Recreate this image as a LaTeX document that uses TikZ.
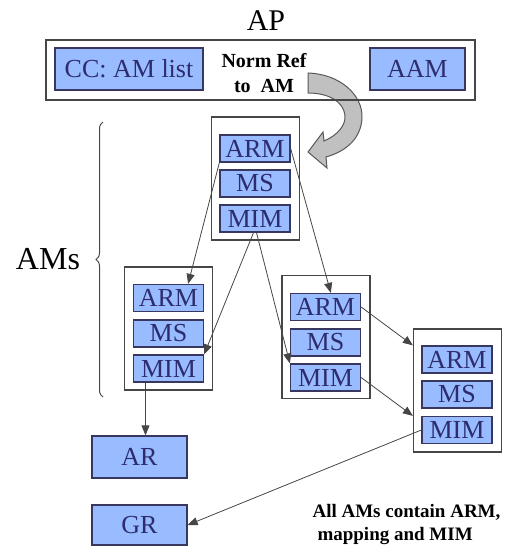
\documentclass[tikz,border=0pt]{standalone}
\usepackage{fontspec}
\setmainfont{Liberation Serif}
\usepackage{tikz}
\usetikzlibrary{arrows.meta, calc, decorations.pathreplacing}
\definecolor{boxfill}{RGB}{153, 187, 255}
\definecolor{boxtext}{RGB}{45, 45, 110}
\definecolor{boxline}{RGB}{55, 55, 95}
\definecolor{frameline}{RGB}{70, 70, 70}
\definecolor{bendgray}{RGB}{192, 192, 192}

\tikzset{
    part/.style={draw=boxline, line width=1.3pt, fill=boxfill, text=boxtext, inner sep=0pt,
        minimum width=70pt, minimum height=27pt, font=\fontsize{26}{28}\selectfont},
    modbox/.style={draw=frameline, line width=1.3pt, fill=white, inner sep=0pt,
        minimum width=88pt, minimum height=123pt},
    link/.style={-{Triangle[length=10pt, width=8pt]}, line width=0.8pt, draw=frameline}
}

\begin{document}
\begin{tikzpicture}[x=1pt, y=-1pt]
        \useasboundingbox (0,0) rectangle (513,547);

        % 弯箭头 (Norm Ref)
        \draw[line width=1pt, draw=gray!70!black, fill=bendgray]
            (308,73) .. controls (340,74) and (363,95) .. (362,118)
            .. controls (361,138) and (347,151) .. (326,157)
            -- (327,168) -- (308,152) -- (323,132) -- (324,141)
            .. controls (338,135) and (346,125) .. (345,115)
            .. controls (343,101) and (328,93) .. (308,93) -- cycle;

        % AP 框 (AP)
        \node[font=\fontsize{30}{32}\selectfont] (aplabel) at (266,21) {AP};
        \node[draw=frameline, line width=1.3pt, minimum width=429pt, minimum height=60pt] (ap) at (260.5,70) {};
        \node[part, minimum width=148pt, minimum height=42pt] (cc) at (129,69) {CC: AM list};
        \node[part, minimum width=95pt, minimum height=42pt] (aam) at (417.5,69) {AAM};
        \node[font=\bfseries\fontsize{20}{25}\selectfont, align=center] (normref) at (264,73) {Norm Ref\\to\ \ AM};

        % 花括号 (AMs)
        \draw[frameline, line width=1pt, decorate, decoration={brace, amplitude=7pt}] (103,397) -- (103,122);
        \node[font=\fontsize{32}{34}\selectfont] (amslabel) at (48,259) {AMs};

        % 模块一
        \node[modbox] (am1) at (255.5,178.5) {};
        \node[part] (am1arm) at (255,148.5) {ARM};
        \node[part] (am1ms) at (255,183.5) {MS};
        \node[part] (am1mim) at (255,218.5) {MIM};

        % 模块二
        \node[modbox] (am2) at (168.5,328.5) {};
        \node[part] (am2arm) at (168.5,298) {ARM};
        \node[part] (am2ms) at (168.5,333.5) {MS};
        \node[part] (am2mim) at (168.5,368.5) {MIM};

        % 模块三
        \node[modbox] (am3) at (326,337) {};
        \node[part] (am3arm) at (325.5,307) {ARM};
        \node[part] (am3ms) at (325.5,342.5) {MS};
        \node[part] (am3mim) at (325.5,377.5) {MIM};

        % 模块四
        \node[modbox] (am4) at (457.5,390.5) {};
        \node[part] (am4arm) at (457,359.5) {ARM};
        \node[part] (am4ms) at (457,394.5) {MS};
        \node[part] (am4mim) at (457,430) {MIM};

        % 结果 (AR, GR)
        \node[part, minimum width=95pt, minimum height=42pt] (ar) at (139.5,457) {AR};
        \node[part, minimum width=95pt, minimum height=40pt] (gr) at (139.5,525) {GR};

        % 箭头
        \coordinate (artop) at ($(ar.north)+(6,0)$);
        \draw[link] (am1arm.south west) -- ($(am2arm.north)!0.55!(am2arm.north east)$);
        \draw[link] (am1arm.east) -- ($(am3arm.north)!0.15!(am3arm.north east)$);
        \draw[link] ($(am1mim.south)+(-1.5,0)$) -- (am2mim.north east);
        \draw[link] ($(am1mim.south)+(1.5,0)$) -- (am3mim.north west);
        \draw[link] (am3arm.east) -- (am4.west |- am4arm.north);
        \draw[link] (am3mim.east) -- (am4.west |- am4mim.north);
        \draw[link] (am2mim.south -| artop) -- (artop);
        \draw[link] (am4mim.west) -- (gr.east);

        % 说明
        \node[font=\bfseries\fontsize{19}{23}\selectfont, align=left, anchor=west] (note) at (309,524)
            {All AMs contain ARM,\\\hspace*{5pt}mapping and MIM};
    \end{tikzpicture}
\end{document}
